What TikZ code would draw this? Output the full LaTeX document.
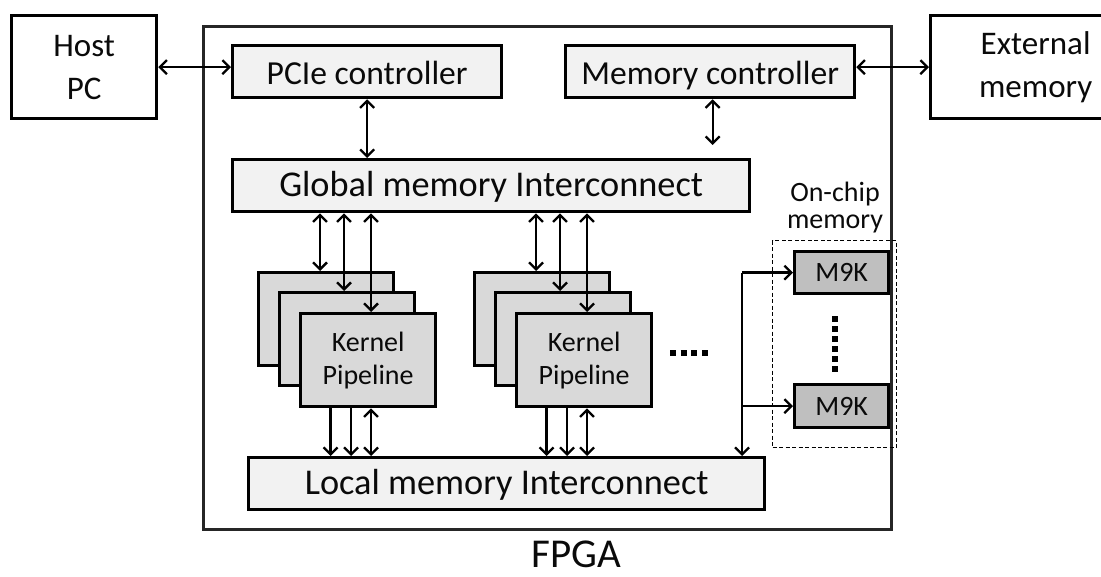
\documentclass[tikz,border=0pt]{standalone}
\usepackage{fontspec}
\setmainfont{Carlito}
\usetikzlibrary{arrows.meta}
\definecolor{fillA}{HTML}{F2F2F2}
\definecolor{fillB}{HTML}{D9D9D9}
\definecolor{fillC}{HTML}{BFBFBF}
\definecolor{txt}{HTML}{0A0A0A}
\definecolor{frame}{HTML}{262626}
\begin{document}
\begin{tikzpicture}[x=1pt,y=-1pt,
  box/.style={draw=black, line width=3.3pt, anchor=north west, inner sep=0pt, text=txt, align=center},
  ctl/.style={box, fill=fillA, minimum height=52, text height=30pt, text depth=4pt, font=\fontsize{33.6}{40}\selectfont},
  icn/.style={box, fill=fillA, minimum height=52, text height=28pt, text depth=6pt, font=\fontsize{36.3}{40}\selectfont},
  outer/.style={box, fill=white, minimum width=145, minimum height=103, font=\fontsize{33}{43}\selectfont},
  kern/.style={box, fill=fillB, minimum width=135, minimum height=93, font=\fontsize{28}{33}\selectfont},
  mk/.style={box, fill=fillC, minimum width=94, minimum height=42, font=\fontsize{28}{33}\selectfont},
  lbl/.style={text=txt, inner sep=0pt, align=center},
  tip/.tip={Straight Barb[length=7pt,width=14pt]},
  arr/.style={line width=2.3pt, -tip},
  darr/.style={line width=2.3pt, tip-tip},
]
\useasboundingbox (0,0) rectangle (1101,577);

% outer frame
\node[draw=frame, line width=3pt, anchor=north west, minimum width=688, minimum height=503, inner sep=0pt] (fpga) at (202,25) {};
\node[lbl, font=\fontsize{41}{44}\selectfont] (fpgalbl) at (576,554) {FPGA};

% external blocks
\node[outer] (host) at (10,14) {Host\\PC};
\node[outer, minimum width=210] (ext) at (929,14) {External\\memory};

% controllers
\node[ctl, minimum width=269] (pcie) at (231,44) {PCIe controller};
\node[ctl, minimum width=289] (mc) at (564,44) {Memory controller};

% interconnects
\node[icn, minimum width=517] (glob) at (231,158) {Global memory Interconnect};
\node[icn, minimum width=516] (loc) at (247,456) {Local memory Interconnect};

% kernel stacks
\node[kern] (k1a) at (257,271) {};
\node[kern] (k1b) at (278,291) {};
\node[kern] (k1c) at (299,312) {Kernel\\Pipeline};
\node[kern] (k2a) at (473,271) {};
\node[kern] (k2b) at (494,291) {};
\node[kern] (k2c) at (515,312) {Kernel\\Pipeline};

% on-chip memory
\node[lbl, font=\fontsize{28}{27}\selectfont] (onchip) at (835,208) {On-chip\\memory};
\node[draw=black, line width=1.3pt, dash pattern=on 4pt off 2.5pt, anchor=north west, minimum width=124, minimum height=207, inner sep=0pt] (ocm) at (772,240) {};
\node[mk] (m1) at (793,250) {M9K};
\node[mk, minimum height=43] (m2) at (793,383) {M9K};
\coordinate (vd1) at ([xshift=-7pt,yshift=-21pt]m1.south);
\coordinate (vd2) at ([yshift=-59pt]vd1);
\draw[line width=6pt, dash pattern=on 6pt off 4pt] (vd1) -- (vd2);
\coordinate (hd1) at (670,353);
\coordinate (hd2) at (709,353);
\draw[line width=6pt, dash pattern=on 6pt off 4.6pt] (hd1) -- (hd2);

% connectors: top
\draw[darr] (host.east) -- (host.east -| pcie.west);
\draw[darr] (ext.west -| mc.east) -- (ext.west);
\draw[darr] (pcie.south) -- (pcie.south |- glob.north);
\coordinate (mcb) at ([xshift=2.5pt]mc.south);
\coordinate (mce) at ([yshift=13pt]mcb |- glob.north);
\draw[darr] (mcb) -- (mce);

% global -> kernels, kernels -> local
\foreach \k in {1,2}{
  \coordinate (t\k a) at ([xshift=63pt]k\k a.north west);
  \coordinate (t\k b) at ([xshift=66pt]k\k b.north west);
  \coordinate (t\k c) at ([xshift=72pt]k\k c.north west);
  \draw[darr] (glob.south -| t\k a) -- (t\k a);
  \draw[darr] (glob.south -| t\k b) -- (t\k b);
  \draw[darr] (glob.south -| t\k c) -- (t\k c);
  \coordinate (b\k a) at ([xshift=31.5pt]k\k c.south west);
  \coordinate (b\k b) at ([xshift=52pt]k\k c.south west);
  \coordinate (b\k c) at ([xshift=72pt]k\k c.south west);
  \draw[arr] (b\k a) -- (b\k a |- loc.north);
  \draw[arr] (b\k b) -- (b\k b |- loc.north);
  \draw[darr] (b\k c) -- (b\k c |- loc.north);
}

% local <-> on-chip memory
\coordinate (bus) at (742,0);
\draw[line width=2.3pt] (m1.west -| bus) -- (m2.west -| bus);
\draw[arr] (m2.west -| bus) -- (bus |- loc.north);
\draw[arr] (m1.west -| bus) -- (m1.west);
\draw[arr] (m2.west -| bus) -- (m2.west);
\end{tikzpicture}
\end{document}
